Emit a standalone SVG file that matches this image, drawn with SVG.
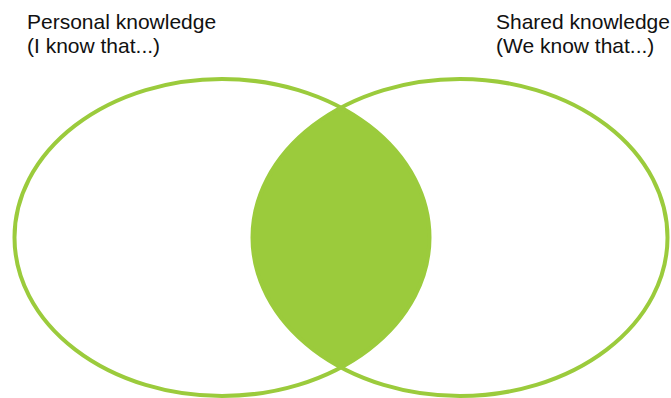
<svg xmlns="http://www.w3.org/2000/svg" width="671" height="398" viewBox="0 0 671 398">
<style>
.ring{fill:none;stroke:#9bcb3c;stroke-width:4}
.lbl{font-family:"Liberation Sans",Arial,sans-serif;font-size:21px;fill:#111}
</style>
<rect width="671" height="398" fill="#fff"/>
<g id="overlap">
<path d="M341,107.65 A207.5,158.5 0 0 0 341,367.35 A207.5,158.5 0 0 0 341,107.65 Z" fill="#9bcb3c"/>
</g>
<g id="personal">
<ellipse class="ring" cx="222" cy="237.5" rx="207.5" ry="158.5"/>
<text class="lbl" x="27" y="29">Personal knowledge</text>
<text class="lbl" x="27" y="53">(I know that...)</text>
</g>
<g id="shared">
<ellipse class="ring" cx="460" cy="237.5" rx="207.5" ry="158.5"/>
<text class="lbl" x="496" y="29">Shared knowledge</text>
<text class="lbl" x="496" y="53">(We know that...)</text>
</g>
<g id="connectors"/>
</svg>
